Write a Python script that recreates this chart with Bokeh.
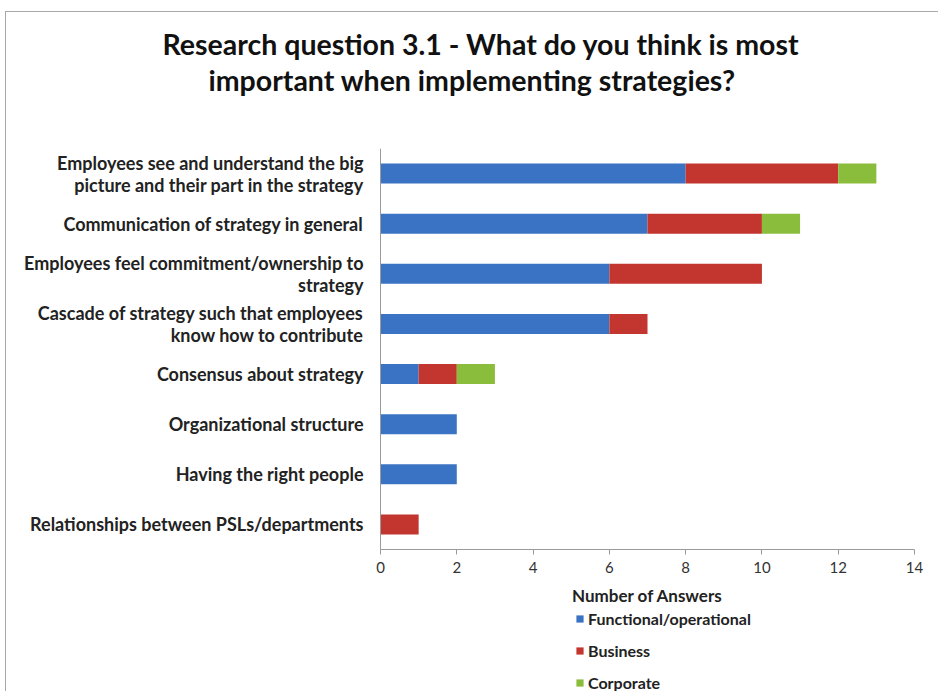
from bokeh.plotting import figure
from bokeh.models import Title, Legend, LegendItem, Range1d, FixedTicker, ColumnDataSource
from bokeh.embed import file_html
from bokeh.resources import INLINE

categories = [
    "Employees see and understand the big\npicture and their part in the strategy",
    "Communication of strategy in general",
    "Employees feel commitment/ownership to\nstrategy",
    "Cascade of strategy such that employees\nknow how to contribute",
    "Consensus about strategy",
    "Organizational structure",
    "Having the right people",
    "Relationships between PSLs/departments",
]
functional = [8, 7, 6, 6, 1, 2, 2, 0]
business = [4, 3, 4, 1, 1, 0, 0, 1]
corporate = [1, 1, 0, 0, 1, 0, 0, 0]
series_names = ["Functional/operational", "Business", "Corporate"]
colors = ["#3a73c3", "#c3352f", "#8bbd3c"]
x_ticks = [0, 2, 4, 6, 8, 10, 12, 14]

title_lines = ["Research question 3.1 - What do you think is most",
               "important when implementing strategies?"]
x_title = "Number of Answers"

FONT = "Lato"

# ---- layout (pixels) ----
FIG_W, FIG_H = 933, 680
TOP = 136                      # space for the titles
FRAME_H = FIG_H - TOP
AXIS_X0_PX = 374               # x=0 position inside the figure
AXIS_X14_PX = 908              # x=14 position inside the figure
CAT_BAND_PX = 50.125           # height of one category band

n = len(categories)
ypos = [n - 1 - i for i in range(n)]
px_per_unit = (AXIS_X14_PX - AXIS_X0_PX) / (x_ticks[-1] - x_ticks[0])
x_lo = -AXIS_X0_PX / px_per_unit
x_hi = (FIG_W - AXIS_X0_PX) / px_per_unit
y_hi = n - 0.5
y_lo = y_hi - FRAME_H / CAT_BAND_PX

source = ColumnDataSource(dict(y=ypos, f=functional, b=business, c=corporate))

p = figure(
    frame_width=FIG_W, frame_height=FRAME_H,
    x_range=Range1d(x_lo, x_hi), y_range=Range1d(y_lo, y_hi),
    output_backend="svg", toolbar_location=None,
    min_border=0, min_border_top=TOP,
)
p.styles = {"border-top": "1px solid #a8a8a8", "border-left": "1px solid #a8a8a8",
            "margin-left": "5px", "margin-top": "11px"}

renderers = p.hbar_stack(["f", "b", "c"], y="y", height=0.4, color=colors,
                         line_color=None, source=source)

p.outline_line_color = None
p.xgrid.grid_line_color = None
p.ygrid.grid_line_color = None
p.background_fill_color = "white"
p.border_fill_color = "white"

# x axis (pinned under the last category)
p.xaxis.fixed_location = -0.5
p.xaxis.bounds = (x_ticks[0], x_ticks[-1])
p.xaxis.ticker = FixedTicker(ticks=x_ticks)
p.xaxis.axis_line_color = "#9a9a9a"
p.xaxis.major_tick_line_color = "#9a9a9a"
p.xaxis.major_tick_out = 5
p.xaxis.major_tick_in = 0
p.xaxis.minor_tick_line_color = None
p.xaxis.major_label_text_font = FONT
p.xaxis.major_label_text_font_size = "15px"
p.xaxis.major_label_text_color = "#333333"
p.xaxis.major_label_standoff = 7
p.xaxis.axis_label = x_title
p.xaxis.axis_label_text_font = FONT
p.xaxis.axis_label_text_font_style = "bold"
p.xaxis.axis_label_text_font_size = "17px"
p.xaxis.axis_label_text_color = "#222222"
p.xaxis.axis_label_standoff = 9

# y axis (pinned at x = 0) with category labels
p.yaxis.fixed_location = 0
p.yaxis.bounds = (-0.5, n - 0.5)
p.yaxis.ticker = FixedTicker(ticks=ypos)
p.yaxis.major_label_overrides = {y: c for y, c in zip(ypos, categories)}
p.yaxis.axis_line_color = "#9a9a9a"
p.yaxis.major_tick_line_color = None
p.yaxis.minor_tick_line_color = None
p.yaxis.major_label_text_font = FONT
p.yaxis.major_label_text_font_style = "bold"
p.yaxis.major_label_text_font_size = "18px"
p.yaxis.major_label_text_line_height = 1.0
p.yaxis.major_label_text_color = "#222222"
p.yaxis.major_label_standoff = 11

# titles: spacer closest to the plot, then line 2, then line 1
p.add_layout(Title(text=" ", standoff=16, text_font=FONT, text_font_size="28px"), "above")
p.add_layout(Title(text=title_lines[1], align="left", offset=202, standoff=0,
                   text_font=FONT, text_font_size="28.5px", text_font_style="bold",
                   text_color="#111111"), "above")
p.add_layout(Title(text=title_lines[0], align="left", offset=156, standoff=0,
                   text_font=FONT, text_font_size="28.5px", text_font_style="bold",
                   text_color="#111111"), "above")

legend = Legend(
    items=[LegendItem(label=s, renderers=[r]) for s, r in zip(series_names, renderers)],
    orientation="vertical", location=(569, 0),
    glyph_width=9, glyph_height=9, label_height=18, label_standoff=4, spacing=13,
    padding=0, margin=0, border_line_color=None, background_fill_alpha=0,
    label_text_font=FONT, label_text_font_style="bold", label_text_font_size="16px",
    label_text_color="#222222",
)
p.add_layout(legend, "center")

open("out.html", "w").write(file_html(p, INLINE))
